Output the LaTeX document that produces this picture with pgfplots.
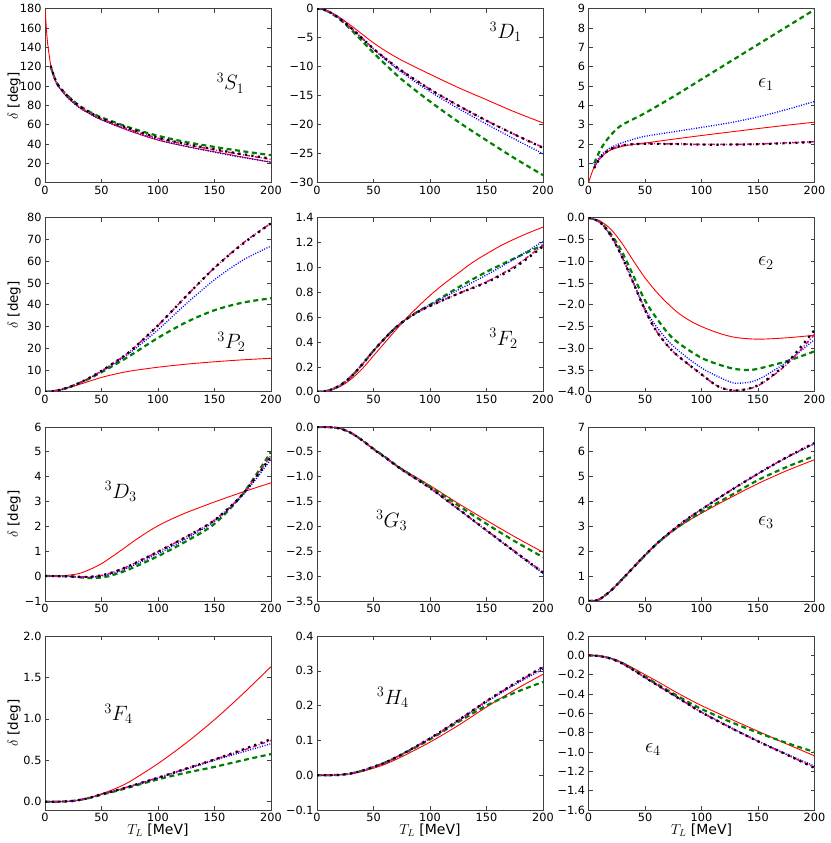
\documentclass[border=0pt]{standalone}
\usepackage{fontspec}
\setmainfont{DejaVu Sans}
\usepackage{pgfplots}
\pgfplotsset{compat=1.18}
\definecolor{mplgreen}{rgb}{0,0.5,0}
\pgfplotsset{
  panel/.style={scale only axis, width=226pt, height=174pt, xmin=0, xmax=200,
    xtick={0,50,100,150,200}, tick align=inside, major tick length=4pt,
    axis line style={black!75,line width=0.7pt}, tick style={black!75,line width=0.6pt},
    tick label style={font=\fontsize{11.3}{13}\selectfont},
    /pgf/number format/assume math mode=true, anchor=south west},
  sR/.style={color=red, line width=0.9pt, smooth, no markers},
  sG/.style={color=mplgreen, line width=2.2pt, dash pattern=on 5pt off 3.5pt, smooth, no markers},
  sB/.style={color=blue, line width=1.3pt, dash pattern=on 1pt off 1.5pt, smooth, no markers},
  sM/.style={color=magenta, line width=1.5pt, dash pattern=on 4pt off 2pt on 1pt off 2pt, smooth, no markers},
  sK/.style={color=black, line width=2.2pt, dash pattern=on 2.2pt off 4.4pt, smooth, no markers},
  ylab/.style={ylabel={$\delta$ [deg]}, ylabel style={at={(axis description cs:-0.137,0.5)}, anchor=center, font=\fontsize{13.5}{16}\selectfont}},
  xlab/.style={xlabel={$T_L$ [MeV]}, xlabel style={at={(axis description cs:0.5,-0.118)}, anchor=center, font=\fontsize{14}{17}\selectfont}},
}
\newcommand{\plab}[1]{\fontsize{21}{25}\selectfont #1}
\begin{document}
\begin{tikzpicture}
% ---------- Row 1 ----------
\begin{axis}[panel, ylab, at={(45pt,660.3pt)}, ymin=0, ymax=180,
  ytick={0,20,...,180}, yticklabels={0,20,40,60,80,100,120,140,160,180}]
\addplot[sR] coordinates {(0.3,178)(1,163)(2,148)(3,138)(5,122)(7.5,111)(10,103)(15,95)(20,88)(30,78)(40,71)(50,65)(75,53.5)(100,44)(125,37.5)(150,32)(175,26.5)(200,21)};
\addplot[sG] coordinates {(5,120)(10,104)(15,96)(20,90)(30,80)(40,73)(50,67.5)(75,57)(100,48.5)(125,42)(150,37)(175,32.5)(200,28.5)};
\addplot[sB] coordinates {(5,120)(10,103)(15,95)(20,88)(30,78)(40,71)(50,65)(75,54)(100,44.5)(125,37.5)(150,31.5)(175,26)(200,21.5)};
\addplot[sM] coordinates {(5,120)(10,103.5)(15,95.5)(20,89)(30,79)(40,72)(50,66)(75,55)(100,46)(125,39.5)(150,34)(175,29)(200,24)};
\addplot[sK] coordinates {(5,121)(10,104)(15,96)(20,89.5)(30,79.5)(40,72.5)(50,66.5)(75,56)(100,46.5)(125,40)(150,34.5)(175,29.5)(200,25)};
\node at (axis cs:164,103) {\plab{$^3S_1$}};
\end{axis}
\begin{axis}[panel, at={(317pt,660.3pt)}, ymin=-30, ymax=0,
  ytick={-30,-25,...,0}, yticklabels={−30,−25,−20,−15,−10,−5,0}]
\addplot[sR] coordinates {(0,0)(5,-0.1)(10,-0.4)(15,-0.9)(20,-1.5)(30,-2.9)(40,-4.4)(50,-5.9)(60,-7.2)(75,-8.9)(100,-11.3)(125,-13.6)(150,-15.7)(175,-17.8)(200,-19.7)};
\addplot[sG] coordinates {(0,0)(5,-0.1)(10,-0.5)(15,-1.1)(20,-1.8)(30,-3.6)(40,-5.6)(50,-7.6)(60,-9.5)(75,-12.2)(100,-16.0)(125,-19.5)(150,-22.7)(175,-25.8)(200,-28.7)};
\addplot[sB] coordinates {(0,0)(5,-0.1)(10,-0.5)(15,-1.0)(20,-1.7)(30,-3.3)(40,-5.1)(50,-7.0)(60,-8.7)(75,-11.0)(100,-14.3)(125,-17.2)(150,-19.9)(175,-22.5)(200,-25.0)};
\addplot[sM] coordinates {(0,0)(5,-0.1)(10,-0.5)(15,-1.0)(20,-1.7)(30,-3.3)(40,-5.1)(50,-6.9)(60,-8.5)(75,-10.7)(100,-13.9)(125,-16.7)(150,-19.3)(175,-21.7)(200,-23.9)};
\addplot[sK] coordinates {(0,0)(5,-0.1)(10,-0.5)(15,-1.0)(20,-1.7)(30,-3.3)(40,-5.1)(50,-6.9)(60,-8.5)(75,-10.7)(100,-13.9)(125,-16.7)(150,-19.3)(175,-21.7)(200,-24.0)};
\node at (axis cs:167,-4) {\plab{$^3D_1$}};
\end{axis}
\begin{axis}[panel, at={(588.5pt,660.3pt)}, ymin=0, ymax=9,
  ytick={0,1,...,9}, yticklabels={0,1,2,3,4,5,6,7,8,9}]
\addplot[sR] coordinates {(0,0)(2,0.35)(5,0.8)(10,1.25)(15,1.52)(20,1.7)(30,1.88)(40,1.98)(50,2.05)(75,2.25)(100,2.44)(125,2.62)(150,2.8)(175,2.97)(200,3.13)};
\addplot[sG] coordinates {(5,1.0)(10,1.65)(15,2.12)(20,2.48)(25,2.78)(30,3.0)(40,3.3)(50,3.6)(75,4.45)(100,5.35)(125,6.25)(150,7.15)(175,8.05)(200,8.95)};
\addplot[sB] coordinates {(5,0.9)(10,1.35)(15,1.63)(20,1.82)(25,1.96)(30,2.07)(40,2.25)(50,2.4)(75,2.63)(100,2.86)(125,3.1)(150,3.4)(175,3.78)(200,4.2)};
\addplot[sM] coordinates {(5,0.8)(10,1.25)(15,1.55)(20,1.75)(30,1.93)(40,2.0)(50,2.02)(75,2.01)(100,1.98)(125,1.98)(150,2.0)(175,2.06)(200,2.12)};
\addplot[sK] coordinates {(5,0.75)(10,1.25)(15,1.55)(20,1.75)(30,1.93)(40,1.99)(50,2.01)(75,2.0)(100,1.97)(125,1.97)(150,1.99)(175,2.04)(200,2.1)};
\node at (axis cs:157,5.1) {\plab{$\epsilon_1$}};
\end{axis}
% ---------- Row 2 ----------
\begin{axis}[panel, ylab, at={(45pt,451.2pt)}, ymin=0, ymax=80,
  ytick={0,10,...,80}, yticklabels={0,10,20,30,40,50,60,70,80}]
\addplot[sR] coordinates {(0,0)(10,0.5)(20,1.7)(30,3.3)(40,5.0)(50,6.6)(60,7.9)(75,9.5)(100,11.3)(125,12.7)(150,13.8)(175,14.7)(200,15.4)};
\addplot[sG] coordinates {(0,0)(10,0.5)(20,1.9)(30,3.9)(40,6.3)(50,9.0)(60,11.9)(75,16.5)(100,24.8)(125,32.0)(150,37.5)(175,41.0)(200,43.0)};
\addplot[sB] coordinates {(0,0)(10,0.5)(20,1.9)(30,4.0)(40,6.5)(50,9.4)(60,12.6)(75,17.8)(100,28.5)(125,40.5)(150,51.5)(175,60.5)(200,67.0)};
\addplot[sM] coordinates {(0,0)(10,0.5)(20,1.9)(30,4.0)(40,6.6)(50,9.6)(60,13.0)(75,18.5)(100,30.5)(125,44.0)(150,57.0)(175,68.3)(200,77.5)};
\addplot[sK] coordinates {(0,0)(10,0.5)(20,1.9)(30,4.0)(40,6.6)(50,9.6)(60,13.0)(75,18.5)(100,30.5)(125,44.0)(150,57.0)(175,68.0)(200,77.5)};
\node at (axis cs:165,23) {\plab{$^3P_2$}};
\end{axis}
\begin{axis}[panel, at={(317pt,451.2pt)}, ymin=0, ymax=1.4,
  ytick={0,0.2,0.4,0.6,0.8,1.0,1.2,1.4}, yticklabels={0.0,0.2,0.4,0.6,0.8,1.0,1.2,1.4}]
\addplot[sR] coordinates {(0,0)(10,0.008)(20,0.04)(30,0.1)(40,0.185)(50,0.29)(60,0.395)(70,0.5)(80,0.6)(90,0.69)(100,0.775)(112.5,0.87)(125,0.955)(137.5,1.04)(150,1.11)(162.5,1.175)(175,1.23)(187.5,1.28)(200,1.325)};
\addplot[sG] coordinates {(0,0)(10,0.01)(20,0.05)(30,0.12)(40,0.22)(50,0.33)(60,0.43)(70,0.52)(80,0.59)(90,0.65)(100,0.7)(125,0.84)(150,0.965)(175,1.075)(200,1.18)};
\addplot[sB] coordinates {(0,0)(10,0.01)(20,0.05)(30,0.12)(40,0.22)(50,0.33)(60,0.43)(70,0.52)(80,0.59)(90,0.65)(100,0.7)(125,0.82)(150,0.94)(175,1.07)(200,1.21)};
\addplot[sM] coordinates {(0,0)(10,0.01)(20,0.05)(30,0.12)(40,0.22)(50,0.33)(60,0.43)(70,0.52)(80,0.59)(90,0.645)(100,0.69)(125,0.79)(150,0.885)(175,1.01)(200,1.18)};
\addplot[sK] coordinates {(0,0)(10,0.01)(20,0.05)(30,0.12)(40,0.22)(50,0.33)(60,0.43)(70,0.52)(80,0.59)(90,0.645)(100,0.69)(125,0.79)(150,0.88)(175,1.0)(200,1.17)};
\node at (axis cs:165,0.43) {\plab{$^3F_2$}};
\end{axis}
\begin{axis}[panel, at={(588.5pt,451.2pt)}, ymin=-4, ymax=0,
  ytick={-4,-3.5,...,0}, yticklabels={−4.0,−3.5,−3.0,−2.5,−2.0,−1.5,−1.0,−0.5,0.0}]
\addplot[sR] coordinates {(0,0)(10,-0.07)(20,-0.27)(30,-0.6)(40,-1.0)(50,-1.38)(60,-1.7)(70,-1.97)(80,-2.2)(90,-2.37)(100,-2.5)(115,-2.65)(130,-2.75)(150,-2.79)(175,-2.76)(200,-2.7)};
\addplot[sG] coordinates {(0,0)(10,-0.09)(20,-0.38)(30,-0.8)(40,-1.35)(50,-1.9)(60,-2.3)(75,-2.78)(100,-3.22)(125,-3.45)(140,-3.5)(150,-3.47)(175,-3.3)(200,-3.07)};
\addplot[sB] coordinates {(0,0)(10,-0.1)(20,-0.42)(30,-0.9)(40,-1.5)(50,-2.08)(60,-2.5)(75,-2.95)(100,-3.45)(125,-3.77)(135,-3.8)(150,-3.72)(175,-3.32)(200,-2.8)};
\addplot[sM] coordinates {(0,0)(10,-0.1)(20,-0.42)(30,-0.92)(40,-1.52)(50,-2.12)(60,-2.6)(75,-3.08)(100,-3.6)(115,-3.88)(130,-3.97)(150,-3.86)(175,-3.38)(200,-2.68)};
\addplot[sK] coordinates {(0,0)(10,-0.1)(20,-0.42)(30,-0.92)(40,-1.52)(50,-2.12)(60,-2.6)(75,-3.08)(100,-3.6)(115,-3.88)(130,-3.97)(150,-3.85)(175,-3.35)(200,-2.58)};
\node at (axis cs:157,-1.04) {\plab{$\epsilon_2$}};
\end{axis}
% ---------- Row 3 ----------
\begin{axis}[panel, ylab, at={(45pt,242.1pt)}, ymin=-1, ymax=6,
  ytick={-1,0,...,6}, yticklabels={−1,0,1,2,3,4,5,6}]
\addplot[sR] coordinates {(0,0)(10,0.0)(20,0.03)(30,0.1)(40,0.27)(50,0.5)(60,0.8)(70,1.12)(80,1.45)(90,1.75)(100,2.02)(110,2.25)(125,2.55)(150,2.98)(175,3.38)(200,3.75)};
\addplot[sG] coordinates {(0,0)(20,-0.01)(30,-0.05)(40,-0.08)(50,-0.06)(60,0.04)(75,0.28)(100,0.8)(125,1.4)(150,2.1)(175,3.3)(200,5.0)};
\addplot[sB] coordinates {(0,0)(20,-0.01)(30,-0.04)(40,-0.05)(50,0.0)(60,0.1)(75,0.36)(100,0.9)(125,1.5)(150,2.2)(175,3.25)(200,4.7)};
\addplot[sM] coordinates {(0,0)(20,-0.01)(30,-0.03)(40,-0.03)(50,0.03)(60,0.15)(75,0.42)(100,0.98)(125,1.58)(150,2.25)(175,3.3)(200,4.85)};
\addplot[sK] coordinates {(0,0)(20,-0.01)(30,-0.03)(40,-0.03)(50,0.03)(60,0.15)(75,0.42)(100,0.98)(125,1.58)(150,2.25)(175,3.3)(200,4.8)};
\node at (axis cs:67,3.4) {\plab{$^3D_3$}};
\end{axis}
\begin{axis}[panel, at={(317pt,242.1pt)}, ymin=-3.5, ymax=0,
  ytick={-3.5,-3,...,0}, yticklabels={−3.5,−3.0,−2.5,−2.0,−1.5,−1.0,−0.5,0.0}]
\addplot[sR] coordinates {(0,0)(10,-0.005)(20,-0.03)(30,-0.12)(40,-0.27)(50,-0.44)(60,-0.6)(75,-0.84)(100,-1.18)(125,-1.54)(150,-1.88)(175,-2.21)(200,-2.52)};
\addplot[sG] coordinates {(0,0)(10,-0.005)(20,-0.03)(30,-0.12)(40,-0.27)(50,-0.44)(60,-0.6)(75,-0.85)(100,-1.2)(125,-1.58)(150,-1.95)(175,-2.3)(200,-2.62)};
\addplot[sB] coordinates {(0,0)(10,-0.005)(20,-0.03)(30,-0.12)(40,-0.27)(50,-0.45)(60,-0.61)(75,-0.86)(100,-1.23)(125,-1.66)(150,-2.09)(175,-2.52)(200,-2.95)};
\addplot[sM] coordinates {(0,0)(10,-0.005)(20,-0.03)(30,-0.12)(40,-0.27)(50,-0.45)(60,-0.61)(75,-0.86)(100,-1.23)(125,-1.65)(150,-2.08)(175,-2.5)(200,-2.92)};
\addplot[sK] coordinates {(0,0)(10,-0.005)(20,-0.03)(30,-0.12)(40,-0.27)(50,-0.45)(60,-0.61)(75,-0.86)(100,-1.23)(125,-1.65)(150,-2.08)(175,-2.51)(200,-2.93)};
\node at (axis cs:66,-1.88) {\plab{$^3G_3$}};
\end{axis}
\begin{axis}[panel, at={(588.5pt,242.1pt)}, ymin=0, ymax=7,
  ytick={0,1,...,7}, yticklabels={0,1,2,3,4,5,6,7}]
\addplot[sR] coordinates {(0,0)(5,0.01)(10,0.07)(20,0.42)(30,0.88)(40,1.36)(50,1.83)(60,2.27)(70,2.65)(80,2.98)(90,3.27)(100,3.53)(110,3.78)(125,4.14)(150,4.72)(175,5.23)(200,5.68)};
\addplot[sG] coordinates {(0,0)(5,0.01)(10,0.07)(20,0.42)(30,0.88)(40,1.36)(50,1.83)(60,2.28)(70,2.66)(80,3.0)(90,3.3)(100,3.57)(110,3.84)(125,4.22)(150,4.86)(175,5.38)(200,5.83)};
\addplot[sB] coordinates {(0,0)(5,0.01)(10,0.07)(20,0.42)(30,0.88)(40,1.36)(50,1.84)(60,2.29)(70,2.68)(80,3.05)(90,3.38)(100,3.68)(110,3.98)(125,4.42)(150,5.11)(175,5.75)(200,6.32)};
\addplot[sM] coordinates {(0,0)(5,0.01)(10,0.07)(20,0.42)(30,0.88)(40,1.36)(50,1.84)(60,2.29)(70,2.68)(80,3.05)(90,3.38)(100,3.68)(110,3.98)(125,4.42)(150,5.12)(175,5.77)(200,6.35)};
\addplot[sK] coordinates {(0,0)(5,0.01)(10,0.07)(20,0.42)(30,0.88)(40,1.36)(50,1.84)(60,2.29)(70,2.68)(80,3.05)(90,3.38)(100,3.68)(110,3.98)(125,4.42)(150,5.12)(175,5.77)(200,6.35)};
\node at (axis cs:157,3.16) {\plab{$\epsilon_3$}};
\end{axis}
% ---------- Row 4 ----------
\begin{axis}[panel, ylab, xlab, at={(45pt,33pt)}, ymin=-0.1, ymax=2.0,
  ytick={0,0.5,1,1.5,2}, yticklabels={0.0,0.5,1.0,1.5,2.0}]
\addplot[sR] coordinates {(0,0)(12.5,0.001)(25,0.01)(37.5,0.04)(50,0.095)(62.5,0.16)(75,0.243)(100,0.46)(125,0.71)(150,0.99)(175,1.3)(200,1.63)};
\addplot[sG] coordinates {(0,0)(12.5,0.001)(25,0.01)(37.5,0.04)(50,0.085)(62.5,0.128)(75,0.175)(100,0.27)(125,0.35)(150,0.42)(175,0.5)(200,0.575)};
\addplot[sB] coordinates {(0,0)(12.5,0.001)(25,0.01)(37.5,0.04)(50,0.09)(62.5,0.135)(75,0.185)(100,0.285)(125,0.39)(150,0.5)(175,0.6)(200,0.7)};
\addplot[sM] coordinates {(0,0)(12.5,0.001)(25,0.01)(37.5,0.04)(50,0.09)(62.5,0.135)(75,0.185)(100,0.29)(125,0.4)(150,0.51)(175,0.62)(200,0.74)};
\addplot[sK] coordinates {(0,0)(12.5,0.001)(25,0.01)(37.5,0.04)(50,0.09)(62.5,0.135)(75,0.185)(100,0.29)(125,0.4)(150,0.51)(175,0.63)(200,0.755)};
\node at (axis cs:65,1.06) {\plab{$^3F_4$}};
\end{axis}
\begin{axis}[panel, xlab, at={(317pt,33pt)}, ymin=-0.1, ymax=0.4,
  ytick={-0.1,0,0.1,0.2,0.3,0.4}, yticklabels={−0.1,0.0,0.1,0.2,0.3,0.4}]
\addplot[sR] coordinates {(0,0)(10,0)(20,0.001)(30,0.004)(40,0.011)(50,0.02)(60,0.031)(75,0.053)(100,0.095)(125,0.143)(150,0.196)(175,0.245)(200,0.29)};
\addplot[sG] coordinates {(0,0)(10,0)(20,0.001)(30,0.005)(40,0.013)(50,0.024)(60,0.036)(75,0.059)(100,0.103)(125,0.153)(150,0.2)(175,0.237)(200,0.268)};
\addplot[sB] coordinates {(0,0)(10,0)(20,0.001)(30,0.005)(40,0.013)(50,0.024)(60,0.036)(75,0.06)(100,0.105)(125,0.156)(150,0.21)(175,0.26)(200,0.305)};
\addplot[sM] coordinates {(0,0)(10,0)(20,0.001)(30,0.005)(40,0.013)(50,0.024)(60,0.036)(75,0.06)(100,0.106)(125,0.158)(150,0.213)(175,0.263)(200,0.31)};
\addplot[sK] coordinates {(0,0)(10,0)(20,0.001)(30,0.005)(40,0.013)(50,0.024)(60,0.036)(75,0.06)(100,0.106)(125,0.158)(150,0.213)(175,0.264)(200,0.311)};
\node at (axis cs:67,0.224) {\plab{$^3H_4$}};
\end{axis}
\begin{axis}[panel, xlab, at={(588.5pt,33pt)}, ymin=-1.6, ymax=0.2,
  ytick={-1.6,-1.4,-1.2,-1,-0.8,-0.6,-0.4,-0.2,0,0.2}, yticklabels={−1.6,−1.4,−1.2,−1.0,−0.8,−0.6,−0.4,−0.2,0.0,0.2}]
\addplot[sR] coordinates {(0,0)(10,-0.007)(20,-0.03)(30,-0.075)(40,-0.135)(50,-0.2)(62.5,-0.28)(75,-0.365)(87.5,-0.445)(100,-0.52)(125,-0.655)(150,-0.785)(175,-0.915)(200,-1.04)};
\addplot[sG] coordinates {(0,0)(10,-0.008)(20,-0.033)(30,-0.08)(40,-0.148)(50,-0.22)(62.5,-0.31)(75,-0.395)(87.5,-0.478)(100,-0.555)(125,-0.685)(150,-0.8)(175,-0.905)(200,-1.0)};
\addplot[sB] coordinates {(0,0)(10,-0.008)(20,-0.035)(30,-0.085)(40,-0.155)(50,-0.23)(62.5,-0.32)(75,-0.41)(87.5,-0.5)(100,-0.585)(125,-0.74)(150,-0.885)(175,-1.02)(200,-1.145)};
\addplot[sM] coordinates {(0,0)(10,-0.008)(20,-0.035)(30,-0.085)(40,-0.155)(50,-0.23)(62.5,-0.32)(75,-0.41)(87.5,-0.5)(100,-0.59)(125,-0.745)(150,-0.89)(175,-1.025)(200,-1.16)};
\addplot[sK] coordinates {(0,0)(10,-0.008)(20,-0.035)(30,-0.085)(40,-0.155)(50,-0.23)(62.5,-0.32)(75,-0.41)(87.5,-0.5)(100,-0.59)(125,-0.745)(150,-0.89)(175,-1.025)(200,-1.165)};
\node at (axis cs:57,-0.97) {\plab{$\epsilon_4$}};
\end{axis}
\pgfresetboundingbox
\path[use as bounding box] (0,0) rectangle (830pt,843pt);
\end{tikzpicture}
\end{document}
